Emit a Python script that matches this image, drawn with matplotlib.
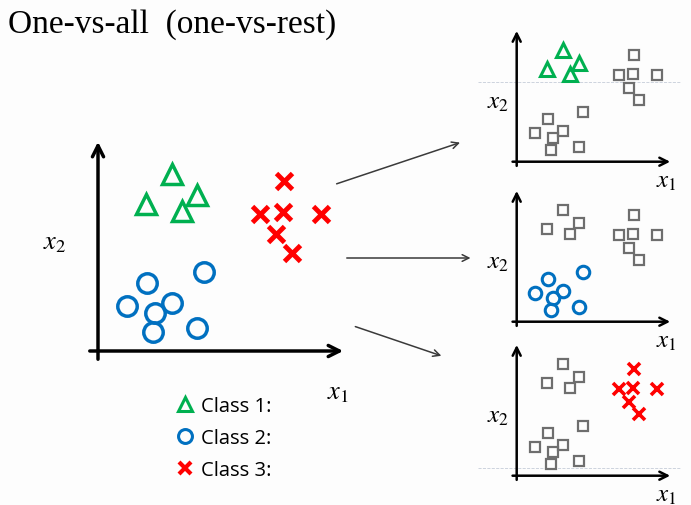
import matplotlib.pyplot as plt
from matplotlib.patches import FancyArrowPatch
from matplotlib.lines import Line2D

plt.rcParams['mathtext.fontset'] = 'stix'

# data (same points in every panel)
tri_x = [7.4, 4.8, 9.9, 8.4]
tri_y = [17.7, 14.7, 15.6, 14.0]
circ_x = [10.6, 4.9, 2.9, 7.4, 5.7, 5.5, 9.9]
circ_y = [7.9, 6.8, 4.5, 4.8, 3.8, 1.9, 2.3]
cross_x = [18.6, 16.2, 18.5, 22.3, 17.8, 19.4]
cross_y = [17.0, 13.7, 13.9, 13.7, 11.7, 9.8]
labels = ["Class 1:", "Class 2:", "Class 3:"]

green = '#00b050'
blue = '#0070c0'
red = '#ff0000'
grey = '#6e6e6e'

W, H = 691, 506
fig = plt.figure(figsize=(W / 100, H / 100), dpi=100)
fig.patch.set_facecolor('#fdfdfd')


def place(ox, oy, s):
    # axes rect so that data origin lands on pixel (ox, oy), s px per unit
    return [(ox - 1.5 * s) / W, (H - oy - 1.5 * s) / H, 27 * s / W, 23.5 * s / H]


def draw_axes(ax, lw, xl, yl, fs):
    ax.set_xlim(-1.5, 25.5)
    ax.set_ylim(-1.5, 22)
    ax.axis('off')
    ax.annotate('', xy=(24.8, 0), xytext=(-1.1, 0),
                arrowprops=dict(arrowstyle='->', lw=lw, color='black', mutation_scale=lw * 8))
    ax.annotate('', xy=(0, 21.2), xytext=(0, -1.1),
                arrowprops=dict(arrowstyle='->', lw=lw, color='black', mutation_scale=lw * 8))
    ax.text(xl[0], xl[1], '$x_1$', fontsize=fs, ha='center', va='center')
    ax.text(yl[0], yl[1], '$x_2$', fontsize=fs, ha='center', va='center')


# main plot
ax = fig.add_axes(place(98, 352, 10))
draw_axes(ax, 2.5, (24, -4.0), (-4.3, 11.0), 19)
ax.plot(tri_x, tri_y, '^', ms=15, mfc='none', mec=green, mew=2.5, label=labels[0])
ax.plot(circ_x, circ_y, 'o', ms=14, mfc='none', mec=blue, mew=2.5, label=labels[1])
ax.plot(cross_x, cross_y, 'x', ms=12, mec=red, mew=3.5, label=labels[2])

handles = [Line2D([], [], ls='none', marker='^', ms=10, mfc='none', mec=green, mew=2.2),
           Line2D([], [], ls='none', marker='o', ms=10, mfc='none', mec=blue, mew=2.2),
           Line2D([], [], ls='none', marker='x', ms=9, mec=red, mew=3)]
fig.legend(handles, labels, loc='upper left', bbox_to_anchor=(158 / W, 1 - 379 / H),
           frameon=False, prop={'family': 'Open Sans', 'size': 14.5}, handlelength=0.85,
           handletextpad=0.4, labelspacing=0.59)

# one-vs-rest panels
panels = [(162.7, 'tri'), (322.7, 'circ'), (476.7, 'cross')]
pts = {'tri': (tri_x, tri_y), 'circ': (circ_x, circ_y), 'cross': (cross_x, cross_y)}
for oy, pos in panels:
    a = fig.add_axes(place(516.7, oy, 6.3))
    draw_axes(a, 1.8, (23.8, -2.9), (-3.0, 9.7), 18)
    for k, (xs, ys) in pts.items():
        if k == pos:
            continue
        a.plot(xs, ys, 's', ms=6.5, mfc='none', mec=grey, mew=1.6)
    xs, ys = pts[pos]
    if pos == 'tri':
        a.plot(xs, ys, '^', ms=10, mfc='none', mec=green, mew=2.2)
        a.plot([-6.1, 25.9], [12.7, 12.7], ls='--', lw=0.6, color='#c5ccd8', clip_on=False, zorder=0)
    elif pos == 'circ':
        a.plot(xs, ys, 'o', ms=9, mfc='none', mec=blue, mew=2.2)
    else:
        a.plot(xs, ys, 'x', ms=8, mec=red, mew=2.6)
        a.plot([-6.1, 25.9], [1.3, 1.3], ls='--', lw=0.6, color='#c5ccd8', clip_on=False, zorder=0)

# connector arrows
for p0, p1 in [((334, 185.7), (462.7, 142.7)),
               ((344, 259), (473.3, 259)),
               ((352.7, 326.7), (444, 357.7))]:
    fig.add_artist(FancyArrowPatch((p0[0] / W, 1 - p0[1] / H), (p1[0] / W, 1 - p1[1] / H),
                                   transform=fig.transFigure, arrowstyle='->',
                                   mutation_scale=12, lw=1.1, color='#3a3a3a'))

fig.text(8 / W, 1 - 33 / H, 'One-vs-all  (one-vs-rest)', fontsize=24,
         family='Liberation Serif', va='baseline')

fig.savefig('out.png', dpi=100, facecolor=fig.get_facecolor())
